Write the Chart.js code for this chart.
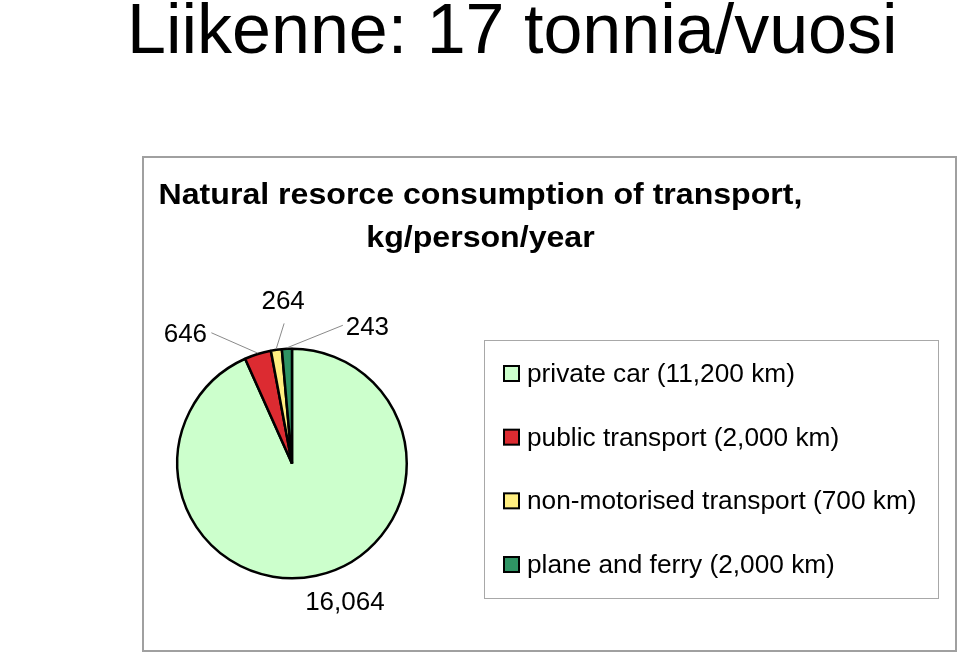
<!DOCTYPE html>
<html>
<head>
<meta charset="utf-8">
<title>Liikenne: 17 tonnia/vuosi</title>
<script src="https://cdn.jsdelivr.net/npm/chart.js@4.4.1/dist/chart.umd.min.js"></script>
<style>
  html, body { margin: 0; padding: 0; background: #fff; }
  canvas { display: block; }
</style>
</head>
<body>
<canvas id="pieChart" width="960" height="653"></canvas>
<script>
// Data
const categories = [
    'private car (11,200 km)',
    'public transport (2,000 km)',
    'non-motorised transport (700 km)',
    'plane and ferry (2,000 km)'
];
const consumption = [16064, 646, 264, 243];   // kg/person/year
const heading = 'Liikenne: 17 tonnia/vuosi';
const chartTitle = ['Natural resorce consumption of transport,', 'kg/person/year'];

// Styles
const sliceColors = ['#ccffcc', '#dc2b31', '#ffee80', '#2f9464'];
const FONT = '"Liberation Sans", Arial, Helvetica, sans-serif';

// Where each value label sits: angle (deg, clockwise from 12 o'clock) and distance in radii,
// plus where its leader line leaves the label (null = no leader)
const labelPlacement = [
    { angle: 158.9, dist: 1.281, leader: null },
    { angle: -39.2, dist: 1.470, leader: [26, 0] },
    { angle: -3.1,  dist: 1.432, leader: [1, 24] },
    { angle: 28.6,  dist: 1.372, leader: [-24.5, 0] }
];

function drawText(ctx, text, x, y, font, align, scaleX) {
    ctx.save();
    ctx.font = font;
    ctx.textBaseline = 'alphabetic';
    const w = ctx.measureText(text).width * scaleX;
    let left = x;
    if (align === 'center') left = x - w / 2;
    else if (align === 'right') left = x - w;
    ctx.translate(left, y);
    ctx.scale(scaleX, 1);
    ctx.textAlign = 'left';
    ctx.fillText(text, 0, 0);
    ctx.restore();
}

const decorations = {
    id: 'decorations',
    beforeDraw(chart) {
        const ctx = chart.ctx;
        ctx.save();
        ctx.fillStyle = '#fff';
        ctx.fillRect(0, 0, chart.width, chart.height);
        // chart frame
        ctx.strokeStyle = '#a0a0a0';
        ctx.lineWidth = 2;
        ctx.strokeRect(143, 157, 813, 494);
        ctx.restore();
    },
    afterDraw(chart) {
        const ctx = chart.ctx;
        const meta = chart.getDatasetMeta(0);
        ctx.save();
        ctx.fillStyle = '#000';

        // slide heading
        drawText(ctx, heading, 127, 53, '70px ' + FONT, 'left', 1);

        // chart title
        drawText(ctx, chartTitle[0], 480.5, 204, 'bold 30px ' + FONT, 'center', 1.07);
        drawText(ctx, chartTitle[1], 480.5, 247, 'bold 30px ' + FONT, 'center', 1.07);

        // value labels + leader lines
        meta.data.forEach((arc, i) => {
            const p = labelPlacement[i];
            const R = arc.outerRadius;
            const a = (p.angle - 90) * Math.PI / 180;
            const lx = arc.x + Math.cos(a) * p.dist * R;
            const ly = arc.y + Math.sin(a) * p.dist * R;
            const txt = consumption[i].toLocaleString('en-US');
            drawText(ctx, txt, lx, ly + 9.3, '26px ' + FONT, 'center', 1);
            if (p.leader) {
                const mid = (arc.startAngle + arc.endAngle) / 2;
                const tx = arc.x + Math.cos(mid) * (R + 1);
                const ty = arc.y + Math.sin(mid) * (R + 1);
                ctx.beginPath();
                ctx.strokeStyle = '#8a8a8a';
                ctx.lineWidth = 1;
                ctx.moveTo(lx + p.leader[0], ly + p.leader[1]);
                ctx.lineTo(tx, ty);
                ctx.stroke();
            }
        });

        // legend box
        ctx.strokeStyle = '#a8a8a8';
        ctx.lineWidth = 1;
        ctx.strokeRect(484.5, 340.5, 454, 258);
        categories.forEach((name, i) => {
            const base = 382 + i * 63.67;
            ctx.fillStyle = sliceColors[i];
            ctx.fillRect(504, base - 16, 15, 15);
            ctx.strokeStyle = '#000';
            ctx.lineWidth = 2;
            ctx.strokeRect(504, base - 16, 15, 15);
            ctx.fillStyle = '#000';
            drawText(ctx, name, 527, base, '25px ' + FONT, 'left', 1.05);
        });
        ctx.restore();
    }
};

const ctxPie = document.getElementById('pieChart').getContext('2d');
const pieChart = new Chart(ctxPie, {
    type: 'pie',
    data: {
        labels: categories,
        datasets: [{
            data: consumption,
            backgroundColor: sliceColors,
            borderColor: '#000',
            borderWidth: 2.5,
            hoverOffset: 0
        }]
    },
    options: {
        responsive: false,
        animation: false,
        layout: { padding: { left: 176, right: 552, top: 347.5, bottom: 73.5 } },
        plugins: {
            legend: { display: false },
            tooltip: { enabled: false },
            title: { display: false }
        }
    },
    plugins: [decorations]
});
</script>
</body>
</html>
